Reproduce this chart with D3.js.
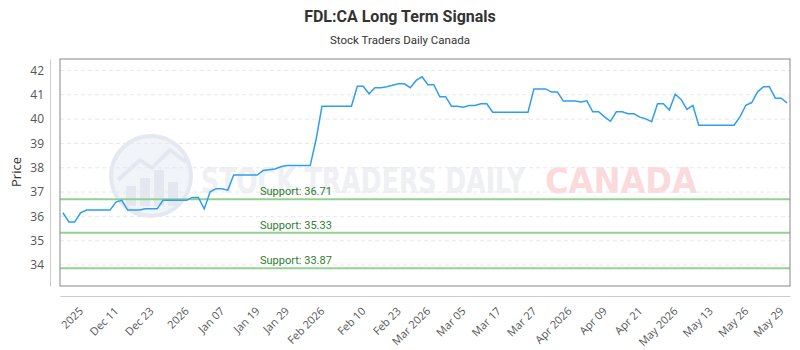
<!DOCTYPE html>
<html>
<head>
<meta charset="utf-8">
<script src="https://cdn.jsdelivr.net/npm/d3@7/dist/d3.min.js"></script>
<style>
body { margin: 0; background: #fff; }
svg { display: block; font-family: Roboto, 'Open Sans', sans-serif; }
</style>
</head>
<body>
<svg width="800" height="350"></svg>
<script>
'use strict'

// closing prices, one per session
let prices = [
    36.15, 35.77, 35.77, 36.15, 36.26, 36.26, 36.26, 36.26, 36.26, 36.59,
    36.66, 36.26, 36.26, 36.26, 36.31, 36.31, 36.31, 36.66, 36.66, 36.66,
    36.66, 36.66, 36.78, 36.78, 36.31, 37.01, 37.14, 37.14, 37.08, 37.70,
    37.70, 37.70, 37.70, 37.70, 37.89, 37.92, 37.95, 38.04, 38.09, 38.09,
    38.09, 38.09, 38.09, 39.16, 40.53, 40.53, 40.53, 40.53, 40.53, 40.53,
    41.35, 41.35, 41.04, 41.29, 41.29, 41.33, 41.39, 41.45, 41.45, 41.29,
    41.59, 41.74, 41.41, 41.41, 40.92, 40.92, 40.53, 40.53, 40.49, 40.56,
    40.56, 40.63, 40.63, 40.28, 40.28, 40.28, 40.28, 40.28, 40.28, 40.28,
    41.24, 41.24, 41.24, 41.11, 41.11, 40.74, 40.74, 40.74, 40.70, 40.75,
    40.30, 40.30, 40.09, 39.91, 40.30, 40.30, 40.22, 40.22, 40.08, 40.01,
    39.89, 40.63, 40.63, 40.37, 41.02, 40.81, 40.40, 40.56, 39.75, 39.75,
    39.75, 39.75, 39.75, 39.75, 39.75, 40.09, 40.57, 40.68, 41.12, 41.33,
    41.33, 40.86, 40.86, 40.67
];

// x axis labels and the session they sit on
let tickIdx = [3, 9, 15, 21, 27, 33, 38, 44, 51, 57, 62, 68, 74, 80, 86, 92, 98, 104, 110, 116, 122];
let tickText = ['2025', 'Dec 11', 'Dec 23', '2026', 'Jan 07', 'Jan 19', 'Jan 29', 'Feb 2026',
    'Feb 10', 'Feb 23', 'Mar 2026', 'Mar 05', 'Mar 17', 'Mar 27', 'Apr 2026', 'Apr 09',
    'Apr 21', 'May 2026', 'May 13', 'May 26', 'May 29'];

let yTicks = [34, 35, 36, 37, 38, 39, 40, 41, 42];
let supports = [36.71, 35.33, 33.87];

let svg = d3.select('svg'),
    width = +svg.attr('width'),
    height = +svg.attr('height');

let plot = { left: 60, right: 790, top: 59, bottom: 286 };

let x = d3.scalePoint()
    .domain(d3.range(prices.length))
    .range([plot.left, plot.right])
    .padding(0.5);

let y = d3.scaleLinear()
    .domain([33.14, 42.47])
    .range([plot.bottom, plot.top]);

// titles
svg.append('text')
    .attr('x', width / 2)
    .attr('y', 22)
    .attr('text-anchor', 'middle')
    .style('font-size', '16px')
    .style('font-weight', 'bold')
    .style('fill', '#333')
    .text('FDL:CA Long Term Signals');

svg.append('text')
    .attr('x', width / 2)
    .attr('y', 44)
    .attr('text-anchor', 'middle')
    .style('font-size', '11.5px')
    .style('fill', '#333')
    .text('Stock Traders Daily Canada');

// watermark
let wm = svg.append('g').attr('class', 'watermark');

wm.append('circle')
    .attr('cx', 151)
    .attr('cy', 176)
    .attr('r', 40)
    .style('fill', '#f1f4f9')
    .style('stroke', '#e4e9f1')
    .style('stroke-width', 4);

wm.selectAll('rect')
    .data([[126, 186, 10, 20], [140, 178, 10, 28], [154, 170, 10, 36], [168, 182, 10, 24]])
    .enter().append('rect')
    .attr('x', function(d) { return d[0]; })
    .attr('y', function(d) { return d[1]; })
    .attr('width', function(d) { return d[2]; })
    .attr('height', function(d) { return d[3]; })
    .style('fill', '#e3e8f0');

wm.append('path')
    .attr('d', 'M118,180 L140,160 L152,168 L170,150 L186,162')
    .style('fill', 'none')
    .style('stroke', '#e3e8f0')
    .style('stroke-width', 4);

wm.append('text')
    .attr('x', 201)
    .attr('y', 193)
    .attr('textLength', 324)
    .attr('lengthAdjust', 'spacingAndGlyphs')
    .style('font-size', '36px')
    .style('font-weight', 'bold')
    .style('font-family', "'DejaVu Sans Condensed', 'DejaVu Sans', sans-serif")
    .style('fill', '#eef0f4')
    .text('STOCK TRADERS DAILY');

wm.append('text')
    .attr('x', 545)
    .attr('y', 193)
    .attr('textLength', 152)
    .attr('lengthAdjust', 'spacingAndGlyphs')
    .style('font-size', '36px')
    .style('font-weight', 'bold')
    .style('font-family', "'DejaVu Sans Condensed', 'DejaVu Sans', sans-serif")
    .style('fill', '#fadadd')
    .text('CANADA');

// grid
svg.append('g')
    .attr('class', 'grid')
    .selectAll('line')
    .data(yTicks)
    .enter().append('line')
    .attr('x1', plot.left)
    .attr('x2', plot.right)
    .attr('y1', function(d) { return y(d); })
    .attr('y2', function(d) { return y(d); })
    .style('stroke', '#e8e8e8')
    .style('stroke-dasharray', '4,3');

// support levels
let sup = svg.append('g').attr('class', 'supports');

sup.selectAll('line')
    .data(supports)
    .enter().append('line')
    .attr('x1', plot.left)
    .attr('x2', plot.right)
    .attr('y1', function(d) { return y(d); })
    .attr('y2', function(d) { return y(d); })
    .style('stroke', '#92d192')
    .style('stroke-width', 2);

sup.selectAll('text')
    .data(supports)
    .enter().append('text')
    .attr('x', plot.left + (plot.right - plot.left) * 0.274)
    .attr('y', function(d) { return y(d) - 4; })
    .style('font-size', '11px')
    .style('fill', '#2e7d32')
    .text(function(d) { return 'Support: ' + d.toFixed(2); });

// price line
let line = d3.line()
    .x(function(d, i) { return x(i); })
    .y(function(d) { return y(d); });

svg.append('path')
    .datum(prices)
    .attr('d', line)
    .style('fill', 'none')
    .style('stroke', '#2f9df2')
    .style('stroke-width', 1.5);

// frame
svg.append('rect')
    .attr('x', plot.left)
    .attr('y', plot.top)
    .attr('width', plot.right - plot.left)
    .attr('height', plot.bottom - plot.top)
    .style('fill', 'none')
    .style('stroke', '#888');

// y axis
let yAxis = svg.append('g')
    .attr('transform', 'translate(50,0)')
    .call(d3.axisLeft(y).tickValues(yTicks).tickSize(0).tickSizeOuter(0).tickPadding(6));

yAxis.select('.domain').style('stroke', '#ccc');
yAxis.selectAll('text')
    .style('font-size', '12px')
    .style('fill', '#555')
    .style('font-family', "'Open Sans', sans-serif");

svg.append('text')
    .attr('transform', 'translate(21,172) rotate(-90)')
    .attr('text-anchor', 'middle')
    .style('font-size', '13px')
    .style('fill', '#333')
    .style('font-family', "'Open Sans', sans-serif")
    .text('Price');

// x axis
let xAxis = svg.append('g')
    .attr('transform', 'translate(0,296)')
    .call(d3.axisBottom(x)
        .tickValues(tickIdx)
        .tickSize(0)
        .tickSizeOuter(0)
        .tickFormat(function(d) { return tickText[tickIdx.indexOf(d)]; }));

xAxis.select('.domain').style('stroke', '#ccc');
xAxis.selectAll('text')
    .attr('y', 0)
    .attr('dy', '0.35em')
    .attr('transform', 'translate(0,13) rotate(-45)')
    .attr('text-anchor', 'end')
    .style('font-size', '11px')
    .style('fill', '#555')
    .style('font-family', "'Open Sans', sans-serif");
</script>
</body>
</html>
